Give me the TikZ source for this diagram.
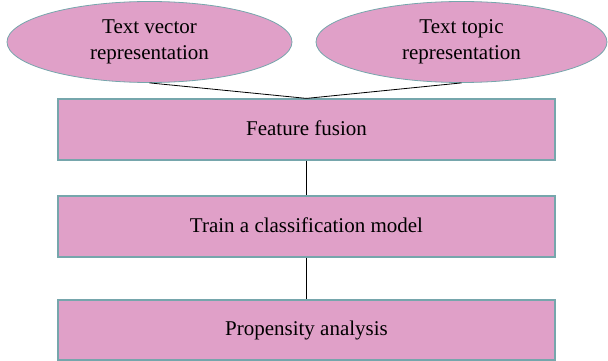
\documentclass[tikz,border=0pt]{standalone}
\usepackage{fontspec}
\setmainfont{Liberation Serif}
\usetikzlibrary{shapes.geometric}
\definecolor{boxfill}{RGB}{224,160,200}
\definecolor{boxline}{RGB}{118,166,172}
\begin{document}
\begin{tikzpicture}[x=1pt,y=1pt,
  source/.style={ellipse, draw=boxline, line width=0.8pt, fill=boxfill,
    minimum width=285pt, minimum height=81pt, inner sep=0pt, align=center,
    font=\fontsize{21}{26}\selectfont},
  stage/.style={rectangle, draw=boxline, line width=1.2pt, fill=boxfill,
    minimum width=497pt, minimum height=61pt, inner sep=0pt,
    text height=11pt, text depth=0pt, font=\fontsize{21}{26}\selectfont},
  link/.style={draw=black, line width=0.8pt}]
\useasboundingbox (0,0) rectangle (608,-361);
\node[source] (vec) at (149.5,-42) {Text vector\\representation};
\node[source, minimum width=291pt] (topic) at (461.5,-42) {Text topic\\representation};
\node[stage] (fusion) at (306.5,-129.5) {Feature fusion};
\node[stage] (train) at (306.5,-226.5) {Train a classification model};
\node[stage, minimum height=60pt] (prop) at (306.5,-330) {Propensity analysis};
\draw[link] (vec.south) -- (fusion.north);
\draw[link] (topic.south) -- (fusion.north);
\draw[link] (fusion) -- (train);
\draw[link] (train) -- (prop);
\end{tikzpicture}
\end{document}
